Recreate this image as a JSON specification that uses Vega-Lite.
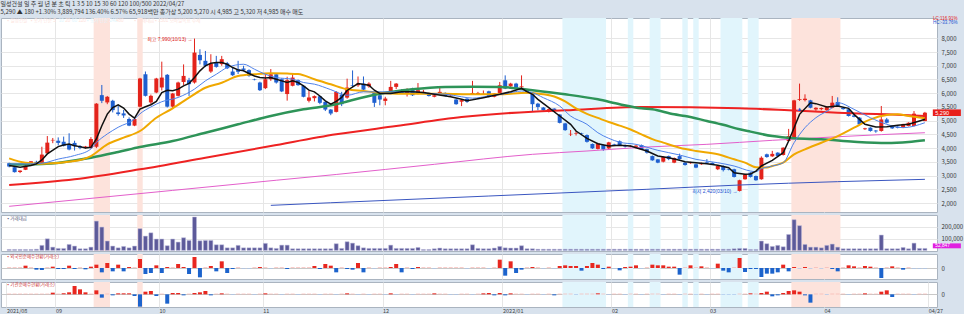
{
"$schema": "https://vega.github.io/schema/vega-lite/v6.json",
"background": "#d8e2ed",
"padding": {"left": 0, "top": 1, "right": 0, "bottom": 0},
"spacing": 1,
"title": {"text": ["일성건설   일 주 월 년 분 초 틱   1 3 5 10 15 30 60 120   100/500   2022/04/27", "5,290 ▲ 180 +1.30%   3,889,794   136.40%   6.57%   65,918백만  종가상  5,200  5,270   시 4,985  고 5,320  저 4,985   매수  매도"], "anchor": "start", "fontSize": 6, "lineHeight": 7.5, "fontWeight": "normal", "color": "#333333", "offset": 1, "font": "Noto Sans CJK KR"},
"config": {
  "view": {"fill": "#ffffff", "stroke": "#aab4c0", "strokeWidth": 1},
  "axis": {"ticks": false, "domain": false, "labelFont": "Noto Sans CJK KR", "labelFontSize": 6, "labelColor": "#333333", "gridColor": "#e6e6e6", "gridWidth": 1, "labelOverlap": false},
  "text": {"font": "Liberation Sans, Noto Sans CJK KR"}
},
"datasets": {
"c": [
{"i":0,"o":3450,"h":3470,"l":3300,"c":3330,"v":8000,"a":2,"b":2,"m5":3365,"m10":3420,"m20":3628,"m60":3400,"m120":2656,"m240":1880},
{"i":1,"o":3305,"h":3320,"l":3110,"c":3125,"v":8000,"a":2,"b":2},
{"i":2,"o":3130,"h":3190,"l":3090,"c":3180,"v":8000,"a":2,"b":2,"m5":3305},
{"i":3,"o":3210,"h":3380,"l":3200,"c":3365,"v":8000,"a":7,"b":2,"m10":3425,"m20":3468},
{"i":4,"o":3400,"h":3530,"l":3390,"c":3520,"v":8000,"a":2,"b":2,"m5":3365},
{"i":5,"o":3500,"h":3540,"l":3420,"c":3460,"v":10000,"a":-5,"b":2,"m5":3425},
{"i":6,"o":3450,"h":4050,"l":3440,"c":3765,"v":43000,"a":-6,"b":2,"m5":3570,"m10":3450,"m20":3431,"m60":3420},
{"i":7,"o":3810,"h":4440,"l":3800,"c":4200,"v":99000,"a":2,"b":2,"m5":3790},
{"i":8,"o":4280,"h":4370,"l":4180,"c":4300,"v":28000,"a":4,"b":5},
{"i":9,"o":4270,"h":4390,"l":4100,"c":4190,"v":17000,"a":-3,"b":2,"m5":4055,"m10":3600},
{"i":10,"o":4235,"h":4420,"l":4060,"c":4090,"v":17000,"a":-3,"b":3,"m5":4115},
{"i":11,"o":4130,"h":4540,"l":3920,"c":3950,"v":51000,"a":7,"b":6,"m5":4150},
{"i":12,"o":4190,"h":4270,"l":3910,"c":4070,"v":37000,"a":-3,"b":25,"m5":4090,"m10":3730,"m20":3530,"m120":2863},
{"i":13,"o":4070,"h":4110,"l":3960,"c":4010,"v":14000,"a":2,"b":15,"m5":4055},
{"i":14,"o":4010,"h":4080,"l":3980,"c":4060,"v":14000,"a":-4,"b":6,"m5":4005},
{"i":15,"o":4010,"h":4400,"l":3980,"c":4330,"v":28000,"a":4,"b":2,"m5":4030,"m10":3970,"m20":3712,"m60":3650},
{"i":16,"o":4050,"h":5640,"l":4000,"c":5620,"v":250000,"a":10,"b":12,"m5":4335,"m10":4200},
{"i":17,"o":5930,"h":6300,"l":5640,"c":5725,"v":199000,"a":-13,"b":-10,"m5":4815},
{"i":18,"o":5665,"h":5900,"l":5600,"c":5870,"v":80000,"a":15,"b":2,"m5":5240,"m10":4515,"m20":4138},
{"i":19,"o":5725,"h":5760,"l":5300,"c":5385,"v":37000,"a":-10,"b":-3,"m5":5480},
{"i":20,"o":5300,"h":5540,"l":5180,"c":5240,"v":22000,"a":10,"b":3,"m5":5580,"m10":4760,"m60":3858},
{"i":21,"o":5265,"h":5390,"l":5100,"c":5190,"v":34000,"a":-10,"b":3,"m5":5460,"m20":4380},
{"i":22,"o":5060,"h":5120,"l":4800,"c":4820,"v":22000,"a":3,"b":3,"m5":5240},
{"i":23,"o":4820,"h":5100,"l":4800,"c":5060,"v":37000,"a":2,"b":-5,"m5":5095,"m10":5060},
{"i":24,"o":5510,"h":6560,"l":5480,"c":6535,"v":185000,"a":27,"b":-37,"m5":5420,"m10":5250,"m20":4623,"m60":4040,"m120":3227},
{"i":25,"o":6690,"h":6790,"l":5880,"c":5905,"v":122000,"a":-18,"b":8,"m5":5505},
{"i":26,"o":5665,"h":5950,"l":5600,"c":5905,"v":150000,"a":-15,"b":10,"m5":5580,"m10":5500},
{"i":27,"o":6025,"h":6560,"l":6000,"c":6535,"v":97000,"a":8,"b":-5,"m5":5700,"m20":5108},
{"i":28,"o":6210,"h":7150,"l":6100,"c":6570,"v":97000,"a":-15,"b":2,"m5":6025,"m10":5690},
{"i":29,"o":6670,"h":6700,"l":5480,"c":5510,"v":40000,"a":3,"b":-28,"m5":6110},
{"i":30,"o":5510,"h":6010,"l":5450,"c":5990,"v":97000,"a":2,"b":4,"m5":6090,"m20":5450,"m60":4260,"m240":2460},
{"i":31,"o":5905,"h":6420,"l":5880,"c":6390,"v":71000,"a":12,"b":4,"m5":6150,"m10":5845},
{"i":32,"o":6410,"h":7050,"l":6300,"c":6630,"v":108000,"a":3,"b":-3,"m5":6270},
{"i":33,"o":6475,"h":6560,"l":5900,"c":6330,"v":85000,"a":-18,"b":2,"m5":6355,"m20":5836},
{"i":34,"o":6390,"h":7990,"l":6350,"c":7480,"v":285000,"a":33,"b":4,"m5":6570,"m10":6150},
{"i":35,"o":7395,"h":7600,"l":7050,"c":7200,"v":82000,"a":-28,"b":6,"m5":6815},
{"i":36,"o":7180,"h":7540,"l":6950,"c":7000,"v":85000,"a":2,"b":10,"m5":7000,"m10":6450,"m20":6200,"m60":4561,"m120":3650},
{"i":37,"o":6790,"h":7420,"l":6740,"c":7080,"v":85000,"a":6,"b":-3,"m5":7090},
{"i":38,"o":7115,"h":7360,"l":6930,"c":6960,"v":48000,"a":-10,"b":2,"m5":7115,"m10":6690},
{"i":39,"o":7060,"h":7360,"l":7000,"c":7240,"v":48000,"a":20,"b":3,"m5":7115,"m20":6382},
{"i":40,"o":7090,"h":7140,"l":6880,"c":6910,"v":22000,"a":-15,"b":2,"m5":7055,"m10":6935},
{"i":41,"o":6790,"h":6930,"l":6630,"c":6655,"v":22000,"a":-3,"b":-2,"m5":6935},
{"i":42,"o":6875,"h":7180,"l":6700,"c":6780,"v":43000,"a":2,"b":2,"m5":6850,"m20":6627,"m60":4867},
{"i":43,"o":6900,"h":7000,"l":6800,"c":6850,"v":22000,"a":-2,"b":2,"m5":6815,"m10":7055},
{"i":44,"o":6840,"h":6870,"l":6600,"c":6630,"v":22000,"a":-2,"b":2,"m5":6720},
{"i":45,"o":6500,"h":6530,"l":6470,"c":6480,"v":22000,"a":2,"b":-2,"m5":6630,"m10":6875,"m20":6690},
{"i":46,"o":6390,"h":6420,"l":6080,"c":6110,"v":22000,"a":3,"b":2,"m5":6570},
{"i":47,"o":6185,"h":6690,"l":6150,"c":6510,"v":60000,"a":2,"b":3,"m5":6550,"m10":6690},
{"i":48,"o":6510,"h":6880,"l":6450,"c":6690,"v":22000,"a":-2,"b":2,"m5":6570,"m20":6725,"m60":5170,"m120":4076,"m480":1915},
{"i":49,"o":6690,"h":6720,"l":6350,"c":6390,"v":17000,"a":2,"b":2,"m5":6510,"m10":6570,"m240":2830},
{"i":50,"o":6510,"h":6540,"l":6040,"c":6065,"v":45000,"a":2,"b":-2,"m5":6450},
{"i":51,"o":5970,"h":6600,"l":5730,"c":6475,"v":45000,"a":-3,"b":2,"m5":6390,"m20":6715},
{"i":52,"o":6270,"h":6700,"l":6250,"c":6570,"v":14000,"a":2,"b":2,"m5":6450,"m10":6510},
{"i":53,"o":6475,"h":6500,"l":6270,"c":6295,"v":14000,"a":2,"b":-2,"m5":6390,"m20":6700},
{"i":54,"o":6270,"h":6300,"l":5850,"c":5870,"v":14000,"a":2,"b":2,"m5":6270,"m10":6390,"m60":5413},
{"i":55,"o":5725,"h":6100,"l":5665,"c":5845,"v":14000,"a":2,"b":2,"m5":6110},
{"i":56,"o":5820,"h":5920,"l":5700,"c":5895,"v":14000,"a":6,"b":2,"m5":6050,"m10":6330,"m20":6506},
{"i":57,"o":5890,"h":5900,"l":5600,"c":5650,"v":14000,"a":-3,"b":-2,"m5":5900},
{"i":58,"o":5685,"h":5700,"l":5350,"c":5405,"v":14000,"a":12,"b":2,"m5":5720},
{"i":59,"o":5405,"h":5420,"l":5200,"c":5260,"v":14000,"a":7,"b":2,"m5":5600,"m10":6130,"m20":6324,"m480":2010},
{"i":60,"o":5320,"h":6080,"l":5300,"c":6050,"v":57000,"a":-13,"b":-2,"m5":5700,"m60":5596,"m120":4503,"m240":3040},
{"i":61,"o":5950,"h":6050,"l":5530,"c":5600,"v":17000,"a":2,"b":2,"m5":5850},
{"i":62,"o":5840,"h":6530,"l":5800,"c":6205,"v":74000,"a":-3,"b":3,"m5":6100,"m10":5925,"m20":6142,"m60":5700},
{"i":63,"o":6300,"h":6830,"l":6220,"c":6280,"v":62000,"a":-5,"b":2},
{"i":64,"o":6290,"h":6610,"l":6230,"c":6350,"v":40000,"a":15,"b":-2,"m5":6350},
{"i":65,"o":6350,"h":6610,"l":6050,"c":6130,"v":22000,"a":-13,"b":2,"m10":6050,"m20":6080},
{"i":66,"o":6250,"h":6400,"l":6200,"c":6350,"v":17000,"a":2,"b":-2,"m5":6290},
{"i":67,"o":6010,"h":6050,"l":5500,"c":5650,"v":17000,"a":-2,"b":2,"m5":6110},
{"i":68,"o":5925,"h":6050,"l":5560,"c":5770,"v":17000,"a":2,"b":2,"m5":5990,"m10":6050,"m20":6018,"m60":5982},
{"i":69,"o":5720,"h":5870,"l":5560,"c":5805,"v":17000,"a":2,"b":-2},
{"i":70,"o":6050,"h":6450,"l":6000,"c":6230,"v":45000,"a":3,"b":3,"m5":5990},
{"i":71,"o":6230,"h":6370,"l":6150,"c":6350,"v":17000,"a":12,"b":-2,"m10":6050,"m120":4805},
{"i":72,"o":6110,"h":6150,"l":5970,"c":5990,"v":17000,"a":-13,"b":2,"m5":6050,"m20":5980},
{"i":73,"o":5990,"h":6180,"l":5880,"c":6110,"v":17000,"a":2,"b":2},
{"i":74,"o":6170,"h":6200,"l":5900,"c":5925,"v":17000,"a":-3,"b":-2,"m5":6050,"m10":6050,"m60":6142},
{"i":75,"o":5990,"h":6370,"l":5960,"c":6110,"v":25000,"a":3,"b":2},
{"i":76,"o":6000,"h":6120,"l":5980,"c":6050,"v":8000,"a":2,"b":2,"m5":6030,"m20":5980},
{"i":77,"o":5990,"h":6020,"l":5880,"c":5900,"v":8000,"a":2,"b":2,"m10":5990},
{"i":78,"o":5870,"h":5950,"l":5850,"c":5925,"v":14000,"a":-2,"b":3,"m5":5965,"m240":3410},
{"i":79,"o":5990,"h":6230,"l":5970,"c":6050,"v":20000,"a":2,"b":2},
{"i":80,"o":6010,"h":6030,"l":5880,"c":5900,"v":14000,"a":2,"b":2,"m10":5965,"m20":5980,"m60":6226},
{"i":81,"o":5920,"h":5960,"l":5880,"c":5930,"v":14000,"a":2,"b":-2,"m5":5870},
{"i":82,"o":5770,"h":5790,"l":5580,"c":5600,"v":14000,"a":2,"b":-2},
{"i":83,"o":5690,"h":5790,"l":5530,"c":5750,"v":14000,"a":2,"b":2,"m5":5780,"m10":5870,"m120":5133},
{"i":84,"o":5800,"h":5820,"l":5650,"c":5690,"v":14000,"a":-2,"b":2,"m5":5730,"m20":5960},
{"i":85,"o":5960,"h":6450,"l":5950,"c":6010,"v":48000,"a":2,"b":-2,"m5":5760,"m10":5820,"m60":6240},
{"i":86,"o":5970,"h":6050,"l":5940,"c":6010,"v":17000,"a":2,"b":2},
{"i":87,"o":5990,"h":6100,"l":5950,"c":6000,"v":14000,"a":2,"b":3,"m5":5836},
{"i":88,"o":6070,"h":6090,"l":5850,"c":5870,"v":14000,"a":-2,"b":4,"m10":5898,"m480":2255},
{"i":89,"o":5870,"h":6000,"l":5850,"c":5990,"v":20000,"a":2,"b":-3},
{"i":90,"o":6010,"h":6410,"l":5990,"c":6290,"v":34000,"a":25,"b":4,"m5":5960,"m20":5960,"m60":6230},
{"i":91,"o":6470,"h":6650,"l":6150,"c":6170,"v":22000,"a":-23,"b":-3,"m10":5982},
{"i":92,"o":6250,"h":6380,"l":6230,"c":6350,"v":20000,"a":20,"b":3,"m5":6055},
{"i":93,"o":6350,"h":6380,"l":6150,"c":6200,"v":20000,"a":-15,"b":2},
{"i":94,"o":6220,"h":6650,"l":6180,"c":6250,"v":40000,"a":-5,"b":2,"m5":6178,"m10":6080},
{"i":95,"o":6110,"h":6150,"l":5990,"c":6010,"v":14000,"a":2,"b":-2,"m5":6055,"m20":6018},
{"i":96,"o":5990,"h":6020,"l":5330,"c":5600,"v":14000,"a":3,"b":2,"m5":5960,"m10":6019,"m60":6105,"m120":5327,"m240":3774},
{"i":97,"o":5620,"h":5650,"l":5380,"c":5500,"v":10000,"a":2,"b":2,"m5":5775},
{"i":98,"o":5480,"h":5500,"l":5360,"c":5380,"v":10000,"a":-2,"b":-2,"m10":5836,"m20":5960},
{"i":99,"o":5320,"h":5440,"l":5300,"c":5420,"v":10000,"a":2,"b":2,"m5":5472},
{"i":100,"o":5440,"h":5450,"l":5320,"c":5350,"v":10000,"a":-2,"b":-3,"m20":5880},
{"i":101,"o":5225,"h":5240,"l":4900,"c":4920,"v":10000,"a":6,"b":2,"m5":5170,"m10":5533},
{"i":102,"o":4900,"h":4920,"l":4630,"c":4655,"v":10000,"a":8,"b":2,"m20":5700,"m60":5960,"m120":5377},
{"i":103,"o":4500,"h":4660,"l":4440,"c":4520,"v":10000,"a":6,"b":2,"m5":4867,"m10":5170},
{"i":104,"o":4520,"h":4620,"l":4460,"c":4540,"v":10000,"a":6,"b":-2,"m5":4623,"m20":5450},
{"i":105,"o":4540,"h":4560,"l":4480,"c":4520,"v":10000,"a":-8,"b":2},
{"i":106,"o":4475,"h":4500,"l":4200,"c":4230,"v":10000,"a":6,"b":2,"m5":4357,"m10":4867,"m20":5250,"m240":3895},
{"i":107,"o":4150,"h":4170,"l":3970,"c":3990,"v":10000,"a":15,"b":2},
{"i":108,"o":3970,"h":4190,"l":3950,"c":4170,"v":10000,"a":10,"b":3,"m5":4160,"m10":4561,"m20":5100,"m60":5777},
{"i":109,"o":4110,"h":4120,"l":3900,"c":3950,"v":10000,"a":-3,"b":2},
{"i":110,"o":3990,"h":4230,"l":3960,"c":4210,"v":10000,"a":4,"b":-2,"m5":4076,"m10":4357,"m20":4950},
{"i":111,"o":4140,"h":4160,"l":4100,"c":4120,"v":10000,"a":-2,"b":2},
{"i":112,"o":4250,"h":4280,"l":4080,"c":4100,"v":10000,"a":-7,"b":2,"m5":4100,"m10":4215,"m20":4820,"m60":5600},
{"i":113,"o":4110,"h":4130,"l":4020,"c":4060,"v":10000,"a":3,"b":-2},
{"i":114,"o":4060,"h":4100,"l":4030,"c":4080,"v":10000,"a":4,"b":2,"m5":4076,"m20":4680},
{"i":115,"o":4050,"h":4110,"l":4010,"c":4090,"v":10000,"a":8,"b":2,"m5":4015,"m10":4138},
{"i":116,"o":4110,"h":4130,"l":3940,"c":3960,"v":10000,"a":-2,"b":-2,"m20":4500,"m60":5450,"m120":5497},
{"i":117,"o":3960,"h":3980,"l":3800,"c":3835,"v":10000,"a":2,"b":2,"m5":3895,"m240":4040,"m480":2500},
{"i":118,"o":3710,"h":3730,"l":3540,"c":3555,"v":10000,"a":10,"b":2,"m20":4330,"m60":5413},
{"i":119,"o":3590,"h":3600,"l":3450,"c":3470,"v":10000,"a":8,"b":2,"m5":3712,"m10":3920},
{"i":120,"o":3505,"h":3690,"l":3480,"c":3675,"v":10000,"a":8,"b":-2,"m20":4200},
{"i":121,"o":3710,"h":3730,"l":3560,"c":3600,"v":10000,"a":4,"b":2,"m5":3650},
{"i":122,"o":3470,"h":3660,"l":3450,"c":3640,"v":10000,"a":4,"b":2,"m60":5230},
{"i":123,"o":3710,"h":3800,"l":3580,"c":3600,"v":10000,"a":-20,"b":-2,"m5":3555,"m10":3749,"m20":4015},
{"i":124,"o":3470,"h":3490,"l":3360,"c":3385,"v":10000,"a":2,"b":2,"m5":3505,"m60":5170},
{"i":125,"o":3450,"h":3500,"l":3430,"c":3480,"v":10000,"a":8,"b":2},
{"i":126,"o":3410,"h":3430,"l":3270,"c":3290,"v":10000,"a":2,"b":-2,"m5":3468,"m10":3592,"m20":3895},
{"i":127,"o":3410,"h":3470,"l":3390,"c":3450,"v":10000,"a":5,"b":2},
{"i":128,"o":3480,"h":3600,"l":3430,"c":3450,"v":10000,"a":2,"b":-2,"m5":3432,"m60":4990,"m240":4138},
{"i":129,"o":3460,"h":3480,"l":3400,"c":3420,"v":10000,"a":-2,"b":2},
{"i":130,"o":3230,"h":3370,"l":3200,"c":3350,"v":10000,"a":13,"b":2,"m5":3373,"m10":3468,"m20":3774},
{"i":131,"o":3350,"h":3370,"l":3150,"c":3200,"v":10000,"a":-8,"b":-2,"m60":4850},
{"i":132,"o":3230,"h":3240,"l":3190,"c":3210,"v":10000,"a":-13,"b":-2,"m5":3286},
{"i":133,"o":3230,"h":3250,"l":2930,"c":2950,"v":14000,"a":2,"b":-2,"m5":3104,"m10":3348,"m20":3592},
{"i":134,"o":2440,"h":2850,"l":2420,"c":2830,"v":17000,"a":30,"b":2,"m60":4685,"m120":5450,"m480":2656},
{"i":135,"o":2865,"h":3060,"l":2850,"c":3045,"v":17000,"a":-12,"b":2,"m5":3045,"m20":3470},
{"i":136,"o":3105,"h":3120,"l":2930,"c":2950,"v":8000,"a":-3,"b":3,"m5":3060,"m10":3165,"m60":4600},
{"i":137,"o":2985,"h":3000,"l":2810,"c":2830,"v":8000,"a":-3,"b":2,"m5":3165,"m10":3140,"m20":3300},
{"i":138,"o":2865,"h":3700,"l":2850,"c":3650,"v":80000,"a":-27,"b":4,"m5":3350,"m10":3250},
{"i":139,"o":3775,"h":3800,"l":3650,"c":3675,"v":57000,"a":-17,"b":8,"m20":3290},
{"i":140,"o":3700,"h":3900,"l":3680,"c":3790,"v":34000,"a":-17,"b":-6,"m5":3555,"m10":3348,"m20":3348,"m60":4440,"m240":4284},
{"i":141,"o":3835,"h":3850,"l":3700,"c":3715,"v":43000,"a":-13,"b":-3},
{"i":142,"o":3750,"h":4030,"l":3730,"c":4015,"v":31000,"a":10,"b":4,"m5":3832,"m10":3468,"m20":3468},
{"i":143,"o":4260,"h":4700,"l":4240,"c":4440,"v":136000,"a":-10,"b":10,"m5":4260,"m120":5377},
{"i":144,"o":4355,"h":5760,"l":4330,"c":5740,"v":262000,"a":3,"b":12,"m5":4745,"m10":4197,"m20":3774,"m60":4357},
{"i":145,"o":5760,"h":6350,"l":5720,"c":5790,"v":211000,"a":-2,"b":8,"m5":5230},
{"i":146,"o":5750,"h":5960,"l":5700,"c":5800,"v":51000,"a":3,"b":-3,"m10":4745,"m20":3956},
{"i":147,"o":5740,"h":5760,"l":5450,"c":5470,"v":28000,"a":-2,"b":-25,"m5":5655},
{"i":148,"o":5410,"h":5490,"l":5360,"c":5470,"v":28000,"a":2,"b":2,"m5":5620,"m10":5108},
{"i":149,"o":5420,"h":5480,"l":5380,"c":5460,"v":22000,"a":-2,"b":2,"m20":4197,"m60":4320},
{"i":150,"o":5380,"h":5520,"l":5360,"c":5500,"v":43000,"a":2,"b":-2,"m5":5497},
{"i":151,"o":5470,"h":5900,"l":5450,"c":5655,"v":54000,"a":-3,"b":2,"m10":5472},
{"i":152,"o":5680,"h":5850,"l":5500,"c":5535,"v":28000,"a":-10,"b":2,"m5":5530,"m10":5655,"m20":4440,"m120":5290,"m240":4415,"m480":2778},
{"i":153,"o":5470,"h":5500,"l":5400,"c":5420,"v":14000,"a":2,"b":2},
{"i":154,"o":5415,"h":5440,"l":5150,"c":5170,"v":14000,"a":8,"b":-2,"m5":5450},
{"i":155,"o":5190,"h":5210,"l":5120,"c":5140,"v":14000,"a":5,"b":2,"m5":5230,"m10":5413,"m20":4745,"m60":4233},
{"i":156,"o":5110,"h":5130,"l":4840,"c":4865,"v":14000,"a":2,"b":2},
{"i":157,"o":4690,"h":4740,"l":4660,"c":4720,"v":14000,"a":6,"b":3,"m5":4867},
{"i":158,"o":4745,"h":4760,"l":4600,"c":4625,"v":14000,"a":4,"b":2,"m10":5108,"m20":5049},
{"i":159,"o":4640,"h":4660,"l":4560,"c":4610,"v":14000,"a":2,"b":2,"m5":4770},
{"i":160,"o":4625,"h":5535,"l":4600,"c":5045,"v":131000,"a":-30,"b":8},
{"i":161,"o":5045,"h":5100,"l":4900,"c":4925,"v":14000,"a":2,"b":12,"m5":4780,"m10":4867,"m20":5206,"m60":4185,"m120":5230},
{"i":162,"o":4805,"h":4830,"l":4700,"c":4720,"v":14000,"a":5,"b":-8},
{"i":163,"o":4780,"h":4800,"l":4720,"c":4740,"v":14000,"a":2,"b":2,"m5":4830,"m20":5230},
{"i":164,"o":4745,"h":4890,"l":4730,"c":4865,"v":25000,"a":-5,"b":2,"m10":4745},
{"i":165,"o":4805,"h":4940,"l":4790,"c":4925,"v":14000,"a":2,"b":2,"m5":4867,"m20":5170,"m60":4222},
{"i":166,"o":4805,"h":5350,"l":4790,"c":5255,"v":62000,"a":-2,"b":-2},
{"i":167,"o":5170,"h":5200,"l":5100,"c":5130,"v":17000,"a":-2,"b":2,"m5":4990},
{"i":168,"o":4985,"h":5320,"l":4985,"c":5290,"v":17000,"a":-2,"b":2,"m5":5050,"m10":4926,"m20":5085,"m60":4284,"m120":5170,"m240":4561,"m480":2863}
],
"bands": [
{"i":15.5,"e":18.5,"k":"r"},{"i":23.5,"e":24.5,"k":"r"},{"i":143.5,"e":152.5,"k":"r"},
{"i":101.5,"e":109.5,"k":"b"},{"i":113.5,"e":114.5,"k":"b"},{"i":117.5,"e":119.5,"k":"b"},{"i":123.5,"e":124.5,"k":"b"},{"i":125.5,"e":126.5,"k":"b"},{"i":130.5,"e":134.5,"k":"b"},{"i":135.5,"e":137.5,"k":"b"}
],
"ann": [
{"i":34,"p":7990,"t":"최고 7,990(10/13) →","k":"hi"},
{"i":134,"p":2420,"t":"최저 2,420(03/10) →","k":"lo"}
],
"leg": [
{"i":-0.3,"p":8645,"t":"▪ 일성건설","k":"g"},
{"i":4.0,"p":8645,"t":"▪ 종가 단순 5","k":"g"},
{"i":9.1,"p":8645,"t":"10","k":"m10"},
{"i":10.3,"p":8645,"t":"20","k":"m20"},
{"i":11.5,"p":8645,"t":"60","k":"m60"},
{"i":12.7,"p":8645,"t":"120","k":"m120"},
{"i":14.3,"p":8645,"t":"▪ 종가 단순 240","k":"m240"},
{"i":19.6,"p":8645,"t":"480","k":"m480"},
{"i":23.0,"p":8645,"t":"▪ 거래대금","k":"m480"},
{"i":26.8,"p":8645,"t":"▪ 1501 모바일목표 추세","k":"g"}
]
},
"vconcat": [
{
"width": 936, "height": 194,
"data": {"name": "c"},
"encoding": {"x": {"field": "i", "type": "quantitative", "title": null, "scale": {"domain": [-0.58, 169.3], "nice": false, "zero": false}, "axis": {"values": [8.5,27.5,46.5,68.5,90.5,110.5,128.5,149.5], "labels": false, "grid": true}}},
"layer": [
{"data": {"name": "bands"}, "mark": {"type": "rect"}, "encoding": {"x2": {"field": "e"}, "color": {"field": "k", "type": "nominal", "scale": {"domain": ["r","b"], "range": ["#fde3dc","#e1f5fc"]}, "legend": null}}},
{"mark": {"type": "rule", "strokeWidth": 1}, "encoding": {"y": {"field": "l", "type": "quantitative", "title": null, "scale": {"domain": [1673, 8740], "nice": false, "zero": false}, "axis": {"orient": "right", "values": [2000,2500,3000,3500,4000,4500,5000,5500,6000,6500,7000,7500,8000], "format": ",d", "grid": true, "labelPadding": 4, "labelOverlap": false}}, "y2": {"field": "h"}, "color": {"condition": {"test": "datum.c >= datum.o", "value": "#e3231b"}, "value": "#1e5fcf"}}},
{"mark": {"type": "bar", "size": 4, "orient": "vertical"}, "encoding": {"y": {"field": "o", "type": "quantitative", "title": null, "axis": {"orient": "right", "values": [2000,2500,3000,3500,4000,4500,5000,5500,6000,6500,7000,7500,8000], "format": ",d", "grid": true, "labelPadding": 4, "labelOverlap": false}}, "y2": {"field": "c"}, "color": {"condition": {"test": "datum.c >= datum.o", "value": "#e3231b"}, "value": "#1e5fcf"}}},
{"transform": [{"filter": "isValid(datum.m480)"}], "mark": {"type": "line", "color": "#3a56c0", "strokeWidth": 1, "interpolate": "monotone"}, "encoding": {"y": {"field": "m480", "type": "quantitative", "title": null, "axis": {"orient": "right", "values": [2000,2500,3000,3500,4000,4500,5000,5500,6000,6500,7000,7500,8000], "format": ",d", "grid": true, "labelPadding": 4, "labelOverlap": false}}}},
{"transform": [{"filter": "isValid(datum.m240)"}], "mark": {"type": "line", "color": "#e35fcb", "strokeWidth": 1, "interpolate": "monotone"}, "encoding": {"y": {"field": "m240", "type": "quantitative", "title": null, "axis": {"orient": "right", "values": [2000,2500,3000,3500,4000,4500,5000,5500,6000,6500,7000,7500,8000], "format": ",d", "grid": true, "labelPadding": 4, "labelOverlap": false}}}},
{"transform": [{"filter": "isValid(datum.m120)"}], "mark": {"type": "line", "color": "#ee2222", "strokeWidth": 2, "interpolate": "monotone"}, "encoding": {"y": {"field": "m120", "type": "quantitative", "title": null, "axis": {"orient": "right", "values": [2000,2500,3000,3500,4000,4500,5000,5500,6000,6500,7000,7500,8000], "format": ",d", "grid": true, "labelPadding": 4, "labelOverlap": false}}}},
{"transform": [{"filter": "isValid(datum.m60)"}], "mark": {"type": "line", "color": "#2e9458", "strokeWidth": 2.5, "interpolate": "monotone"}, "encoding": {"y": {"field": "m60", "type": "quantitative", "title": null, "axis": {"orient": "right", "values": [2000,2500,3000,3500,4000,4500,5000,5500,6000,6500,7000,7500,8000], "format": ",d", "grid": true, "labelPadding": 4, "labelOverlap": false}}}},
{"transform": [{"filter": "isValid(datum.m20)"}], "mark": {"type": "line", "color": "#f0a800", "strokeWidth": 2, "interpolate": "monotone"}, "encoding": {"y": {"field": "m20", "type": "quantitative", "title": null, "axis": {"orient": "right", "values": [2000,2500,3000,3500,4000,4500,5000,5500,6000,6500,7000,7500,8000], "format": ",d", "grid": true, "labelPadding": 4, "labelOverlap": false}}}},
{"transform": [{"filter": "isValid(datum.m10)"}], "mark": {"type": "line", "color": "#4f82ea", "strokeWidth": 1, "interpolate": "monotone"}, "encoding": {"y": {"field": "m10", "type": "quantitative", "title": null, "axis": {"orient": "right", "values": [2000,2500,3000,3500,4000,4500,5000,5500,6000,6500,7000,7500,8000], "format": ",d", "grid": true, "labelPadding": 4, "labelOverlap": false}}}},
{"transform": [{"filter": "isValid(datum.m5)"}], "mark": {"type": "line", "color": "#111111", "strokeWidth": 1.5}, "encoding": {"y": {"field": "m5", "type": "quantitative", "title": null, "axis": {"orient": "right", "values": [2000,2500,3000,3500,4000,4500,5000,5500,6000,6500,7000,7500,8000], "format": ",d", "grid": true, "labelPadding": 4, "labelOverlap": false}}}},
{"data": {"name": "ann"}, "mark": {"type": "text", "align": "right", "baseline": "middle", "dx": -2, "fontSize": 5}, "encoding": {"y": {"field": "p", "type": "quantitative", "title": null, "axis": {"orient": "right", "values": [2000,2500,3000,3500,4000,4500,5000,5500,6000,6500,7000,7500,8000], "format": ",d", "grid": true, "labelPadding": 4, "labelOverlap": false}}, "text": {"field": "t"}, "color": {"condition": {"test": "datum.k == 'hi'", "value": "#e02020"}, "value": "#2050d0"}}},
{"data": {"values": [{"i": 145, "p": 5430}]}, "mark": {"type": "text", "text": "▲", "fontSize": 6, "color": "#2050d0", "baseline": "middle"}, "encoding": {"y": {"field": "p", "type": "quantitative", "title": null, "axis": {"orient": "right", "values": [2000,2500,3000,3500,4000,4500,5000,5500,6000,6500,7000,7500,8000], "format": ",d", "grid": true, "labelPadding": 4, "labelOverlap": false}}}},
{"data": {"name": "leg"}, "mark": {"type": "text", "align": "left", "baseline": "middle", "fontSize": 4.6}, "encoding": {"y": {"field": "p", "type": "quantitative", "title": null, "axis": {"orient": "right", "values": [2000,2500,3000,3500,4000,4500,5000,5500,6000,6500,7000,7500,8000], "format": ",d", "grid": true, "labelPadding": 4, "labelOverlap": false}}, "text": {"field": "t"}, "color": {"field": "k", "type": "nominal", "scale": {"domain": ["g","m10","m20","m60","m120","m240","m480"], "range": ["#444444","#3a6fe0","#e8a000","#2e9458","#e02020","#e040c0","#4a50c8"]}, "legend": null}}},
{"data": {"values": [{"i": 169.45, "e": 174.6, "p": 5410, "q": 5170}]}, "mark": {"type": "rect", "color": "#e8201c"}, "encoding": {"x2": {"field": "e"}, "y": {"field": "p", "type": "quantitative", "title": null, "axis": {"orient": "right", "values": [2000,2500,3000,3500,4000,4500,5000,5500,6000,6500,7000,7500,8000], "format": ",d", "grid": true, "labelPadding": 4, "labelOverlap": false}}, "y2": {"field": "q"}}},
{"data": {"values": [{"i": 169.9, "p": 5290}]}, "mark": {"type": "text", "text": "5,290", "align": "left", "baseline": "middle", "fontSize": 5.5, "color": "#ffffff"}, "encoding": {"y": {"field": "p", "type": "quantitative", "title": null, "axis": {"orient": "right", "values": [2000,2500,3000,3500,4000,4500,5000,5500,6000,6500,7000,7500,8000], "format": ",d", "grid": true, "labelPadding": 4, "labelOverlap": false}}}},
{"data": {"values": [{"i": 169.5, "p": 8690, "t": "LC:116.91%", "k": "r"}, {"i": 169.5, "p": 8570, "t": "HC:-33.76%", "k": "b"}]}, "mark": {"type": "text", "align": "left", "baseline": "middle", "fontSize": 4.5}, "encoding": {"y": {"field": "p", "type": "quantitative", "title": null, "axis": {"orient": "right", "values": [2000,2500,3000,3500,4000,4500,5000,5500,6000,6500,7000,7500,8000], "format": ",d", "grid": true, "labelPadding": 4, "labelOverlap": false}}, "text": {"field": "t"}, "color": {"condition": {"test": "datum.k == 'r'", "value": "#e02020"}, "value": "#2050d0"}}}
]
},
{
"width": 936, "height": 36,
"data": {"name": "c"},
"encoding": {"x": {"field": "i", "type": "quantitative", "title": null, "scale": {"domain": [-0.58, 169.3], "nice": false, "zero": false}, "axis": {"values": [8.5,27.5,46.5,68.5,90.5,110.5,128.5,149.5], "labels": false, "grid": true}}},
"layer": [
{"data": {"name": "bands"}, "mark": {"type": "rect"}, "encoding": {"x2": {"field": "e"}, "color": {"field": "k", "type": "nominal", "scale": {"domain": ["r","b"], "range": ["#fde3dc","#e1f5fc"]}, "legend": null}}},
{"mark": {"type": "bar", "size": 4, "color": "#5d5a9a", "stroke": "#bdbcdc", "strokeWidth": 0.5}, "encoding": {"y": {"field": "v", "type": "quantitative", "title": null, "scale": {"domain": [-5000, 302000], "nice": false, "zero": false}, "axis": {"orient": "right", "values": [100000, 200000], "format": ",d", "grid": true, "labelPadding": 4}}}},
{"data": {"values": [{"i": -0.3, "v": 294000}]}, "mark": {"type": "text", "text": "▪ 거래대금", "align": "left", "baseline": "top", "fontSize": 4.5, "color": "#555577"}, "encoding": {"y": {"field": "v", "type": "quantitative", "title": null, "axis": {"orient": "right", "values": [100000, 200000], "format": ",d", "grid": true, "labelPadding": 4}}}},
{"data": {"values": [{"i": 169.45, "e": 174.6, "v": 60000, "w": 18000}]}, "mark": {"type": "rect", "color": "#e020e0"}, "encoding": {"x2": {"field": "e"}, "y": {"field": "v", "type": "quantitative", "title": null, "axis": {"orient": "right", "values": [100000, 200000], "format": ",d", "grid": true, "labelPadding": 4}}, "y2": {"field": "w"}}},
{"data": {"values": [{"i": 169.9, "v": 39000}]}, "mark": {"type": "text", "text": "52,847", "align": "left", "baseline": "middle", "fontSize": 4.8, "color": "#ffffff"}, "encoding": {"y": {"field": "v", "type": "quantitative", "title": null, "axis": {"orient": "right", "values": [100000, 200000], "format": ",d", "grid": true, "labelPadding": 4}}}}
]
},
{
"width": 936, "height": 25,
"data": {"name": "c"},
"encoding": {"x": {"field": "i", "type": "quantitative", "title": null, "scale": {"domain": [-0.58, 169.3], "nice": false, "zero": false}, "axis": {"values": [8.5,27.5,46.5,68.5,90.5,110.5,128.5,149.5], "labels": false, "grid": true}}},
"layer": [
{"data": {"name": "bands"}, "mark": {"type": "rect"}, "encoding": {"x2": {"field": "e"}, "color": {"field": "k", "type": "nominal", "scale": {"domain": ["r","b"], "range": ["#fde3dc","#e1f5fc"]}, "legend": null}}},
{"mark": {"type": "bar", "size": 4}, "encoding": {"y": {"field": "a", "type": "quantitative", "title": null, "scale": {"domain": [-33, 42], "nice": false, "zero": true}, "axis": {"orient": "right", "values": [0], "grid": true, "gridColor": "#c8c8c8", "labelPadding": 4}}, "color": {"condition": [{"test": "datum.a >= 3", "value": "#e8271f"}, {"test": "datum.a > 0", "value": "#f7b3ae"}, {"test": "datum.a <= -3", "value": "#1c63cc"}], "value": "#a9c4ec"}}},
{"data": {"values": [{"i": -0.3, "a": 41}]}, "mark": {"type": "text", "text": "▪ 외국인순매수현황(거래소)", "align": "left", "baseline": "top", "fontSize": 4.5, "color": "#d04040"}, "encoding": {"y": {"field": "a", "type": "quantitative", "title": null, "axis": {"orient": "right", "values": [0], "grid": true, "gridColor": "#c8c8c8", "labelPadding": 4}}}}
]
},
{
"width": 936, "height": 25,
"data": {"name": "c"},
"encoding": {"x": {"field": "i", "type": "quantitative", "title": null, "scale": {"domain": [-0.58, 169.3], "nice": false, "zero": false}, "axis": {"values": [-0.5,8.5,27.5,46.5,68.5,90.5,110.5,128.5,149.5,168.6], "labelExpr": "datum.value < 0 ? '2021/08' : datum.value < 9 ? '09' : datum.value < 28 ? '10' : datum.value < 47 ? '11' : datum.value < 69 ? '12' : datum.value < 91 ? '2022/01' : datum.value < 111 ? '02' : datum.value < 129 ? '03' : datum.value < 150 ? '04' : '04/27'", "labelAlign": "left", "labelPadding": 1, "labelFontSize": 5.5, "labelFlush": false, "labelBound": false, "grid": true, "labelColor": "#444444"}}},
"layer": [
{"data": {"name": "bands"}, "mark": {"type": "rect"}, "encoding": {"x2": {"field": "e"}, "color": {"field": "k", "type": "nominal", "scale": {"domain": ["r","b"], "range": ["#fde3dc","#e1f5fc"]}, "legend": null}}},
{"mark": {"type": "bar", "size": 4}, "encoding": {"y": {"field": "b", "type": "quantitative", "title": null, "scale": {"domain": [-38, 37], "nice": false, "zero": true}, "axis": {"orient": "right", "values": [0], "grid": true, "gridColor": "#c8c8c8", "labelPadding": 4}}, "color": {"condition": [{"test": "datum.b >= 3", "value": "#e8271f"}, {"test": "datum.b > 0", "value": "#f7b3ae"}, {"test": "datum.b <= -3", "value": "#1c63cc"}], "value": "#a9c4ec"}}},
{"data": {"values": [{"i": -0.3, "b": 36}]}, "mark": {"type": "text", "text": "▪ 기관순매수현황(거래소)", "align": "left", "baseline": "top", "fontSize": 4.5, "color": "#d04040"}, "encoding": {"y": {"field": "b", "type": "quantitative", "title": null, "axis": {"orient": "right", "values": [0], "grid": true, "gridColor": "#c8c8c8", "labelPadding": 4}}}}
]
}
]
}
